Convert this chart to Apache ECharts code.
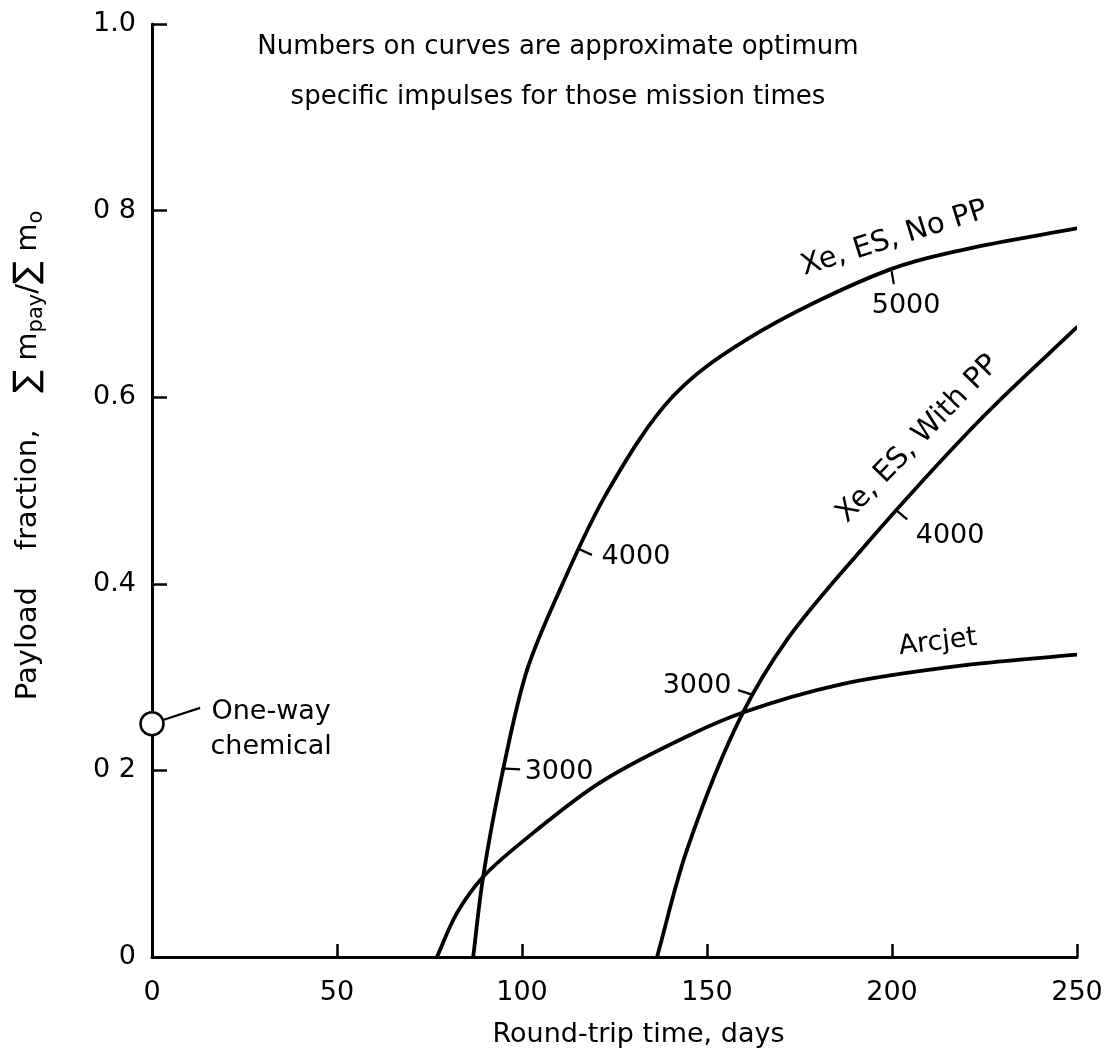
<!DOCTYPE html>
<html><head><meta charset="utf-8">
<script src="https://cdn.jsdelivr.net/npm/echarts@6/dist/echarts.min.js"></script>
<style>html,body{margin:0;padding:0;background:#fff}#c{width:1111px;height:1059px}</style>
</head><body><div id="c"></div>
<script>
// ---- data ----
const xTicks = [0, 50, 100, 150, 200, 250];
const yTickLabels = {'0':'0','0.2':'0 2','0.4':'0.4','0.6':'0.6','0.8':'0 8','1':'1.0'};

const noPPDays = [86.8, 89.5, 94.9, 101.4, 110.3, 123.0, 140.8, 160.8, 199.5, 220.3, 250];
const noPPFrac = [0, 0.086, 0.201, 0.308, 0.394, 0.498, 0.601, 0.662, 0.737, 0.759, 0.781];

const withPPDays = [136.5, 144.6, 159.7, 171.6, 191.4, 224.6, 250];
const withPPFrac = [0, 0.115, 0.262, 0.340, 0.435, 0.579, 0.675];

const arcjetDays = [77, 82.4, 89.5, 104.9, 121.1, 145.4, 159.7, 185.9, 220.3, 250];
const arcjetFrac = [0, 0.047, 0.086, 0.139, 0.187, 0.238, 0.262, 0.292, 0.313, 0.324];

const chemicalPoint = [0, 0.25];

const noteText = 'Numbers on curves are approximate optimum\nspecific impulses for those mission times';

// curve annotations: [x, y, text, rotation]
const curveLabels = [
  [200.6, 0.770, 'Xe, ES, No PP', 17.5],
  [203.8, 0.698, '5000', 0],
  [207.0, 0.555, 'Xe, ES, With PP', 46],
  [215.7, 0.451, '4000', 0],
  [212.4, 0.337, 'Arcjet', 7],
  [147.3, 0.290, '3000', 0],
  [130.8, 0.429, '4000', 0],
  [110.0, 0.198, '3000', 0],
  [32.2, 0.263, 'One-way', 0],
  [32.2, 0.225, 'chemical', 0]
];
// small tick / leader segments: [x1, y1, x2, y2]
const leaderSegments = [
  [199.9, 0.735, 200.5, 0.721],
  [200.8, 0.480, 204.1, 0.469],
  [114.9, 0.438, 118.9, 0.431],
  [95.4, 0.202, 99.5, 0.201],
  [158.4, 0.286, 162.4, 0.281],
  [3.0, 0.254, 13.0, 0.267]
];

const FONT = 'DejaVu Sans';
const zip = (a, b) => a.map((v, i) => [v, b[i]]);

// smooth curve through the data points (centripetal Catmull-Rom), positioned by the chart's own scales
function splineSeries(name, xs, ys) {
  const n = xs.length;
  return {
    name, type: 'custom', z: 3, clip: true, silent: true,
    encode: { x: 0, y: 1 },
    data: zip(xs, ys),
    renderItem: (params, api) => {
      const i = params.dataIndex;
      if (i >= n - 1) return null;
      const P = k => api.coord([xs[k], ys[k]]);
      const p1 = P(i), p2 = P(i + 1);
      const p0 = i > 0 ? P(i - 1) : [2 * p1[0] - p2[0], 2 * p1[1] - p2[1]];
      const p3 = i + 2 < n ? P(i + 2) : [2 * p2[0] - p1[0], 2 * p2[1] - p1[1]];
      const d = (a, b) => Math.pow(Math.hypot(a[0] - b[0], a[1] - b[1]), 0.5) || 1e-6;
      const d1 = d(p0, p1), d2 = d(p1, p2), d3 = d(p2, p3);
      const b1 = [0, 1].map(k => (d1 * d1 * p2[k] - d2 * d2 * p0[k] + (2 * d1 * d1 + 3 * d1 * d2 + d2 * d2) * p1[k]) / (3 * d1 * (d1 + d2)));
      const b2 = [0, 1].map(k => (d3 * d3 * p1[k] - d2 * d2 * p3[k] + (2 * d3 * d3 + 3 * d3 * d2 + d2 * d2) * p2[k]) / (3 * d3 * (d3 + d2)));
      return {
        type: 'bezierCurve',
        shape: { x1: p1[0], y1: p1[1], x2: p2[0], y2: p2[1], cpx1: b1[0], cpy1: b1[1], cpx2: b2[0], cpy2: b2[1] },
        style: { stroke: '#000', lineWidth: 3.8, fill: 'none', lineCap: 'round' }
      };
    }
  };
}

const chart = echarts.init(document.getElementById('c'), null, { renderer: 'canvas' });
chart.setOption({
  animation: false,
  backgroundColor: '#fff',
  graphic: [{
    type: 'text', x: 558, y: 22, silent: true,
    style: {
      text: noteText, fill: '#000', font: '26px "DejaVu Sans"',
      align: 'center', verticalAlign: 'top', lineHeight: 50
    }
  }],
  grid: { left: 152, right: 34, top: 24, bottom: 102, containLabel: false },
  xAxis: {
    type: 'value', min: 0, max: 250, interval: 50,
    name: 'Round-trip time, days', nameLocation: 'middle', nameGap: 64,
    nameTextStyle: { fontFamily: FONT, fontSize: 27, color: '#000', padding: [0, 0, 0, 48] },
    axisLine: { show: true, lineStyle: { color: '#000', width: 3 } },
    axisTick: { show: true, inside: true, length: 13, lineStyle: { color: '#000', width: 2.5 } },
    axisLabel: { fontFamily: FONT, fontSize: 27, color: '#000', margin: 22 },
    splitLine: { show: false }
  },
  yAxis: {
    type: 'value', min: 0, max: 1, interval: 0.2,
    name: '{a|Payload    fraction,    }{g|∑}{a| m}{s|pay}{a|/}{g|∑}{a| m}{s|o}',
    nameLocation: 'middle', nameGap: 106, nameRotate: 90,
    nameTextStyle: {
      fontFamily: FONT, color: '#000', padding: [0, 0, 0, 70],
      rich: {
        a: { fontFamily: FONT, fontSize: 29, color: '#000', lineHeight: 36 },
        g: { fontFamily: FONT, fontSize: 34, color: '#000', lineHeight: 36 },
        s: { fontFamily: FONT, fontSize: 21, color: '#000', lineHeight: 21, padding: [17, 0, 0, 0] }
      }
    },
    axisLine: { show: true, lineStyle: { color: '#000', width: 3 } },
    axisTick: { show: true, inside: true, length: 15, lineStyle: { color: '#000', width: 2.5 } },
    axisLabel: {
      fontFamily: FONT, fontSize: 27, color: '#000', margin: 16,
      formatter: v => yTickLabels[String(+v.toFixed(1))] ?? String(v)
    },
    splitLine: { show: false }
  },
  series: [
    splineSeries('Xe, ES, No PP', noPPDays, noPPFrac),
    splineSeries('Xe, ES, With PP', withPPDays, withPPFrac),
    splineSeries('Arcjet', arcjetDays, arcjetFrac),
    {
      name: 'One-way chemical', type: 'scatter', clip: false, z: 5,
      symbol: 'circle', symbolSize: 23,
      itemStyle: { color: '#fff', borderColor: '#000', borderWidth: 2.5, opacity: 1 },
      data: [chemicalPoint]
    },
    {
      name: 'labels', type: 'scatter', symbolSize: 0, clip: false, z: 6, silent: true,
      itemStyle: { opacity: 1 },
      data: curveLabels.map(l => ({
        value: [l[0], l[1]], name: l[2],
        label: { rotate: l[3], fontSize: l[3] > 10 ? 29 : 27 }
      })),
      label: {
        show: true, position: 'inside', formatter: p => p.name,
        fontFamily: FONT, fontSize: 27, color: '#000'
      }
    },
    {
      name: 'leaders', type: 'custom', clip: false, z: 4, silent: true,
      encode: { x: [0, 2], y: [1, 3] },
      data: leaderSegments,
      renderItem: (params, api) => {
        const p1 = api.coord([api.value(0), api.value(1)]);
        const p2 = api.coord([api.value(2), api.value(3)]);
        return { type: 'line', shape: { x1: p1[0], y1: p1[1], x2: p2[0], y2: p2[1] },
                 style: { stroke: '#000', lineWidth: 2.2 } };
      }
    }
  ]
});
</script>
</body></html>
